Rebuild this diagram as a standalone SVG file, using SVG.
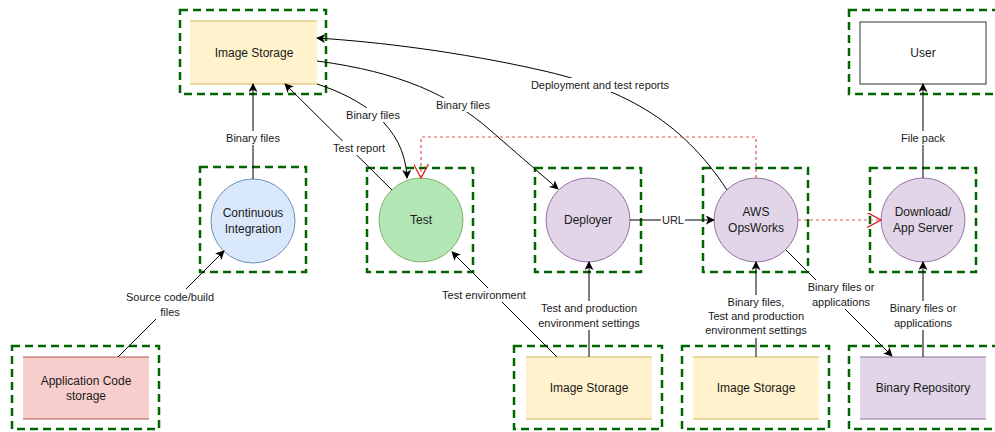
<svg xmlns="http://www.w3.org/2000/svg" width="995" height="432" viewBox="0 0 995 432">
<defs>
<style>
.grp{fill:none;stroke:#006600;stroke-width:2.5;stroke-dasharray:8 5}
.t{font-family:"Liberation Sans",Arial,sans-serif;font-size:12px;fill:#1a1a1a;text-anchor:middle;dominant-baseline:central}
.l{font-family:"Liberation Sans",Arial,sans-serif;font-size:11px;fill:#1a1a1a;text-anchor:middle;dominant-baseline:central}
.e{fill:none;stroke:#000;stroke-width:1;marker-end:url(#arr)}
.r{fill:none;stroke:#e05555;stroke-width:1.2;stroke-dasharray:3 3;marker-end:url(#open)}
.bg{fill:#fff}
</style>
<marker id="arr" viewBox="0 0 10 10" refX="9" refY="5" markerWidth="9" markerHeight="9" markerUnits="userSpaceOnUse" orient="auto">
<path d="M0,0 L10,5 L0,10 L2.5,5 Z" fill="#000"/>
</marker>
<marker id="open" viewBox="0 0 14 14" refX="13" refY="7" markerWidth="15" markerHeight="15" markerUnits="userSpaceOnUse" orient="auto">
<path d="M0,0 L13,7 L0,14" fill="none" stroke="#e02020" stroke-width="1.2"/>
</marker>
</defs>
<rect width="995" height="432" fill="#fff"/>

<g id="img-storage-top">
<rect class="grp" x="180" y="10" width="146" height="84"/>
<rect x="190" y="21" width="127" height="63" fill="#fff2cc"/>
<path d="M190,21 H317 M190,84 H317" stroke="#d6b656" stroke-width="1"/>
<text class="t" x="254" y="53">Image Storage</text>
</g>

<g id="ci">
<rect class="grp" x="200" y="167" width="106" height="105"/>
<circle cx="253" cy="221" r="42" fill="#dae8fc" stroke="#6c8ebf"/>
<text class="t" x="253" y="213">Continuous</text>
<text class="t" x="253" y="229">Integration</text>
</g>

<g id="app-code">
<rect class="grp" x="12" y="346" width="147" height="83"/>
<rect x="23" y="357" width="126" height="62" fill="#f8cecc"/>
<path d="M23,357 H149 M23,419 H149" stroke="#b85450" stroke-width="1"/>
<text class="t" x="86" y="381">Application Code</text>
<text class="t" x="86" y="396">storage</text>
</g>

<g id="test">
<rect class="grp" x="367" y="168" width="106" height="104"/>
<circle cx="421" cy="220" r="42" fill="#b3e6b5" stroke="#82b366"/>
<text class="t" x="421" y="220">Test</text>
</g>

<g id="deployer">
<rect class="grp" x="535" y="168" width="106" height="104"/>
<circle cx="588" cy="220" r="42" fill="#e1d5e7" stroke="#9673a6"/>
<text class="t" x="588" y="220">Deployer</text>
</g>

<g id="opsworks">
<rect class="grp" x="703" y="168" width="105" height="104"/>
<circle cx="756" cy="220" r="42" fill="#e1d5e7" stroke="#9673a6"/>
<text class="t" x="756" y="212">AWS</text>
<text class="t" x="756" y="228">OpsWorks</text>
</g>

<g id="download">
<rect class="grp" x="870" y="168" width="106" height="104"/>
<circle cx="923" cy="220" r="42" fill="#e1d5e7" stroke="#9673a6"/>
<text class="t" x="923" y="212">Download/</text>
<text class="t" x="923" y="228">App Server</text>
</g>

<g id="user">
<rect class="grp" x="849" y="10" width="160" height="84"/>
<rect x="860" y="22" width="126" height="62" fill="#fff" stroke="#333" stroke-width="1"/>
<text class="t" x="923" y="53">User</text>
</g>

<g id="img-storage-deployer">
<rect class="grp" x="514" y="346" width="148" height="83"/>
<rect x="526" y="357" width="126" height="62" fill="#fff2cc"/>
<path d="M526,357 H652 M526,419 H652" stroke="#d6b656" stroke-width="1"/>
<text class="t" x="589" y="388">Image Storage</text>
</g>

<g id="img-storage-ops">
<rect class="grp" x="682" y="346" width="147" height="83"/>
<rect x="693" y="357" width="126" height="62" fill="#fff2cc"/>
<path d="M693,357 H819 M693,419 H819" stroke="#d6b656" stroke-width="1"/>
<text class="t" x="756" y="388">Image Storage</text>
</g>

<g id="binary-repo">
<rect class="grp" x="849" y="346" width="160" height="83"/>
<rect x="860" y="357" width="126" height="62" fill="#e1d5e7"/>
<path d="M860,357 H986 M860,419 H986" stroke="#9673a6" stroke-width="1"/>
<text class="t" x="923" y="388">Binary Repository</text>
</g>

<g id="connectors">
<path class="e" d="M253,179 V84"/>
<rect class="bg" x="225" y="131" width="56" height="14"/>
<text class="l" x="253" y="138">Binary files</text>

<path class="e" d="M118,357 L224,251"/>
<rect class="bg" x="124" y="289" width="92" height="30"/>
<text class="l" x="170" y="297">Source code/build</text>
<text class="l" x="170" y="312">files</text>

<path class="e" d="M392,190 L285,84"/>
<rect class="bg" x="331" y="141" width="56" height="14"/>
<text class="l" x="359" y="148">Test report</text>

<path class="e" d="M317,84 C360,98 405,125 407,178"/>
<rect class="bg" x="345" y="108" width="56" height="14"/>
<text class="l" x="373" y="115">Binary files</text>

<path class="e" d="M317,61 C400,72 450,95 490,130 L558,189"/>
<rect class="bg" x="435" y="98" width="56" height="14"/>
<text class="l" x="463" y="105">Binary files</text>

<path class="e" d="M727,190 C680,118 620,88 540,70 C460,52 380,42 317,38"/>
<rect class="bg" x="527" y="78" width="146" height="14"/>
<text class="l" x="600" y="85">Deployment and test reports</text>

<path class="e" d="M630,220 H714"/>
<rect class="bg" x="661" y="213" width="24" height="14"/>
<text class="l" x="673" y="220">URL</text>

<path class="r" d="M756,178 V137 H421 V178"/>
<path class="r" d="M798,220 H881"/>

<path class="e" d="M786,250 L892,356"/>
<rect class="bg" x="803" y="280" width="76" height="29"/>
<text class="l" x="841" y="287">Binary files or</text>
<text class="l" x="841" y="302">applications</text>

<path class="e" d="M756,357 V262"/>
<rect class="bg" x="701" y="295" width="110" height="43"/>
<text class="l" x="756" y="302">Binary files,</text>
<text class="l" x="756" y="316">Test and production</text>
<text class="l" x="756" y="330">environment settings</text>

<path class="e" d="M923,357 V262"/>
<rect class="bg" x="885" y="301" width="76" height="29"/>
<text class="l" x="923" y="308">Binary files or</text>
<text class="l" x="923" y="323">applications</text>

<path class="e" d="M923,178 V84"/>
<rect class="bg" x="899" y="131" width="48" height="14"/>
<text class="l" x="923" y="138">File pack</text>

<path class="e" d="M589,357 V262"/>
<rect class="bg" x="535" y="301" width="108" height="29"/>
<text class="l" x="589" y="308">Test and production</text>
<text class="l" x="589" y="323">environment settings</text>

<path class="e" d="M557,357 L452,252"/>
<rect class="bg" x="440" y="288" width="88" height="14"/>
<text class="l" x="484" y="295">Test environment</text>
</g>
</svg>
